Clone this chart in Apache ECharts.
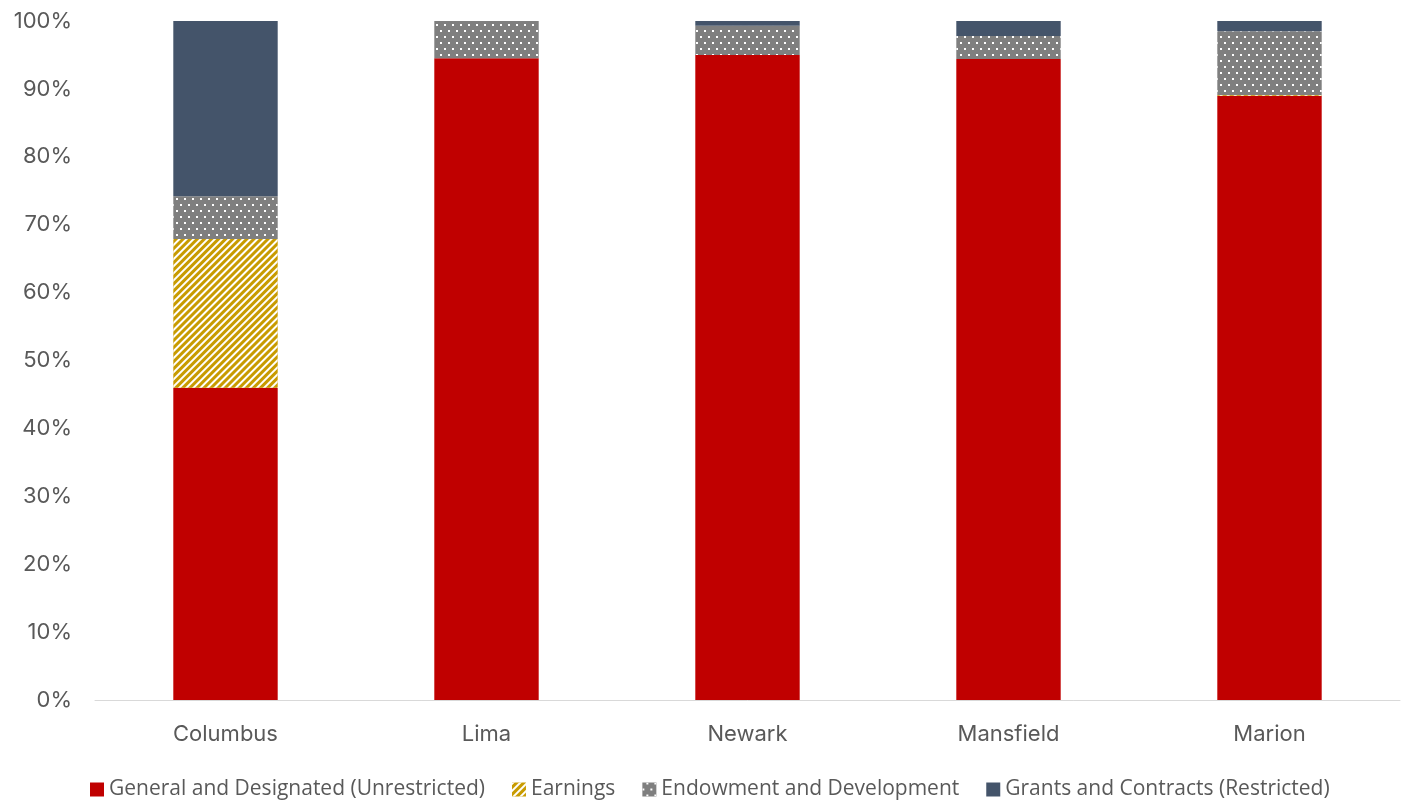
<!DOCTYPE html>
<html><head><meta charset="utf-8">
<script src="https://cdn.jsdelivr.net/npm/echarts@6/dist/echarts.min.js"></script>
<style>html,body{margin:0;padding:0;background:#fff}#c{width:1403px;height:802px}</style>
</head><body><div id="c"></div>
<script>
const categories = ['Columbus', 'Lima', 'Newark', 'Mansfield', 'Marion'];
const generalDesignated = [46.0, 94.5, 95.0, 94.4, 89.0];
const earnings = [21.9, 0, 0, 0, 0.1];
const endowment = [6.3, 5.5, 4.3, 3.4, 9.4];
const grants = [25.8, 0, 0.7, 2.2, 1.5];
const seriesNames = ['General and Designated (Unrestricted)', 'Earnings', 'Endowment and Development', 'Grants and Contracts (Restricted)'];
const yTicks = [0, 10, 20, 30, 40, 50, 60, 70, 80, 90, 100];

const legendFont = '"Open Sans", "Noto Sans", sans-serif';
const axisFont = 'Inter, "Open Sans", sans-serif';
const chart = echarts.init(document.getElementById('c'), null, {renderer: 'canvas'});
const stripeDecal = {symbol: 'rect', symbolSize: 1, color: '#ffffff', dashArrayX: [1, 0], dashArrayY: [2, 3], rotation: -Math.PI / 4};
const dotDecal = {symbol: 'rect', symbolSize: 1, color: '#ffffff', dashArrayX: [[2, 6], [0, 4, 2, 2]], dashArrayY: [2, 4]};
const mk = (name, data, color, decal) => ({
  name, type: 'bar', stack: 'total', data, barWidth: '40%',
  itemStyle: decal ? {color, decal} : {color},
  emphasis: {disabled: true}
});
chart.setOption({
  animation: false,
  aria: {enabled: false},
  grid: {left: 95, right: 3, top: 21, bottom: 102, containLabel: false},
  xAxis: {
    type: 'category', data: categories,
    axisLine: {lineStyle: {color: '#d9d9d9', width: 1}},
    axisTick: {show: false},
    axisLabel: {color: '#595959', fontSize: 22, fontFamily: axisFont, margin: 23}
  },
  yAxis: {
    type: 'value', min: 0, max: 100, interval: 10,
    axisLine: {show: false}, axisTick: {show: false},
    splitLine: {show: false},
    axisLabel: {color: '#595959', fontSize: 22, fontFamily: axisFont, margin: 23,
      formatter: v => yTicks.includes(v) ? v + '%' : ''}
  },
  legend: {
    top: 774, left: 85, itemWidth: 14, itemHeight: 14, itemGap: 27,
    icon: 'rect',
    textStyle: {color: '#595959', fontSize: 21, fontFamily: legendFont},
    data: seriesNames
  },
  series: [
    mk(seriesNames[0], generalDesignated, '#C00000'),
    mk(seriesNames[1], earnings, '#C89B00', stripeDecal),
    mk(seriesNames[2], endowment, '#7F7F7F', dotDecal),
    mk(seriesNames[3], grants, '#44546A')
  ]
});
</script></body></html>
